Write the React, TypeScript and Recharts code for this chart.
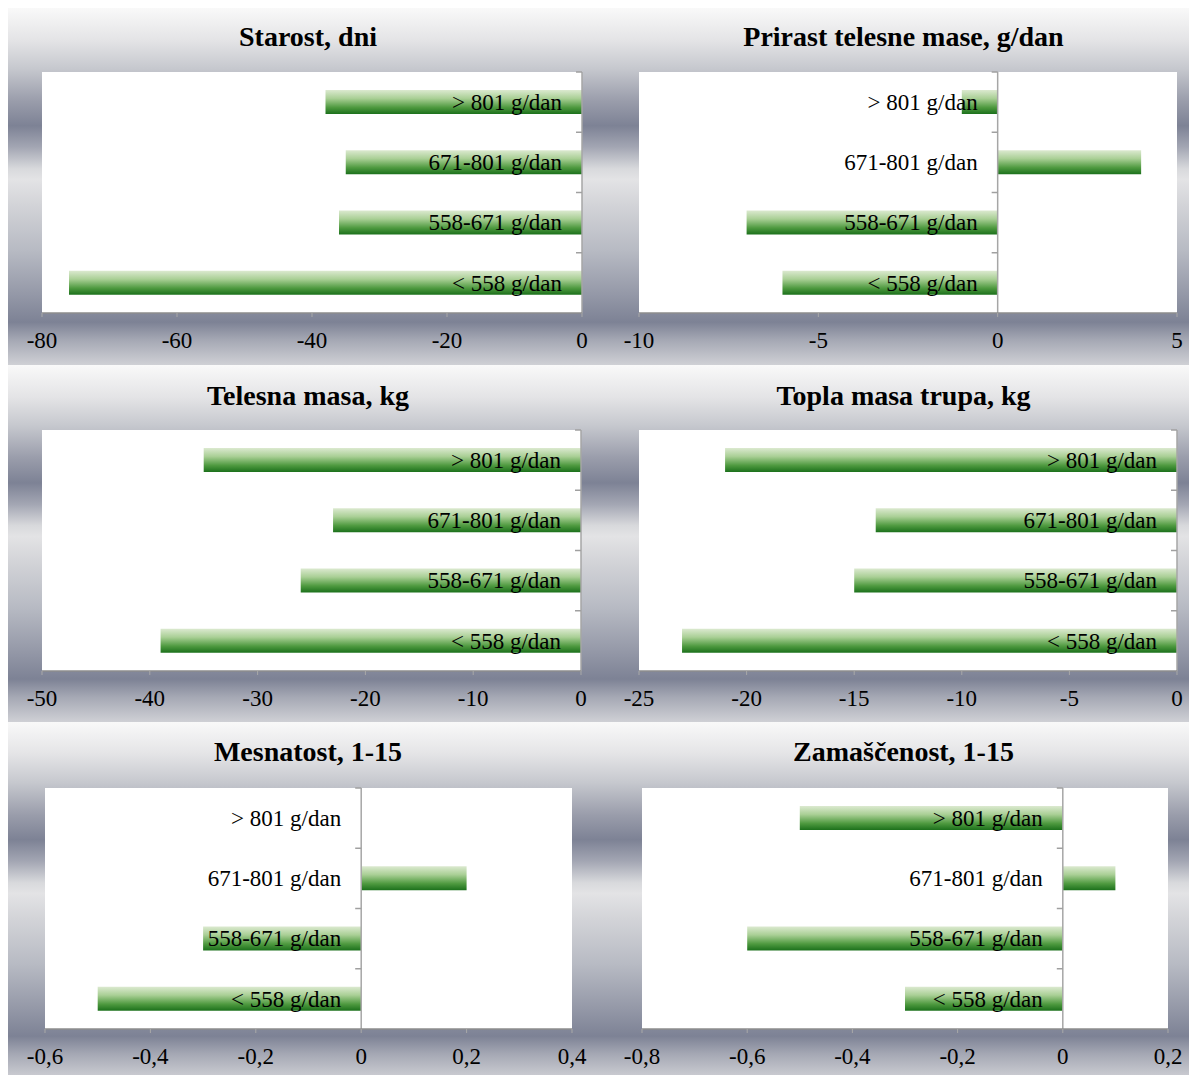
import React from 'react';
import { ComposedChart, Bar, Line, XAxis, YAxis, CartesianGrid, ReferenceLine } from 'recharts';

const categories = ['> 801 g/dan', '671-801 g/dan', '558-671 g/dan', '< 558 g/dan'];

const starostValues = [-38, -35, -36, -76];
const prirastValues = [-1, 4, -7, -6];
const telesnaValues = [-35, -23, -26, -39];
const toplaValues = [-21, -14, -15, -23];
const mesnatostValues = [0, 0.2, -0.3, -0.5];
const zamascenostValues = [-0.5, 0.1, -0.6, -0.3];

const starostTicks = [-80, -60, -40, -20, 0];
const prirastTicks = [-10, -5, 0, 5];
const telesnaTicks = [-50, -40, -30, -20, -10, 0];
const toplaTicks = [-25, -20, -15, -10, -5, 0];
const mesnatostTicks = [-0.6, -0.4, -0.2, 0, 0.2, 0.4];
const zamascenostTicks = [-0.8, -0.6, -0.4, -0.2, 0, 0.2];

const titles = [
  'Starost, dni',
  'Prirast telesne mase, g/dan',
  'Telesna masa, kg',
  'Topla masa trupa, kg',
  'Mesnatost, 1-15',
  'Zamaščenost, 1-15',
];

const FONT = '"Liberation Serif", "Times New Roman", Times, serif';
const BG =
  'linear-gradient(to bottom, #f9f9f9 0%, #e4e4e6 9%, #c6c8ce 17%, #9a9dab 26%, #7d8295 33%, #a3a6b3 39%, #d8d9dc 45%, #e3e3e5 48%, #d3d4d8 55%, #b7bac3 68%, #9599a8 80%, #7d8295 88%, #a5a8b4 93%, #cfd0d5 100%)';
const GAP = 0.3;
const PANEL_H = 357;
const PLOT_H = 241;

const fmt = (v: number) => String(v).replace('.', ',');

const renderCategory = (props: any) => {
  const { cx, cy, index, payload } = props;
  if (cx == null || cy == null || !payload) return <g key={`c-${index}`} />;
  const band = PLOT_H / categories.length;
  const tickY = cy - band / 2;
  return (
    <g key={`c-${index}`}>
      <line x1={cx - 6} x2={cx} y1={tickY} y2={tickY} stroke="#a0a0a0" strokeWidth={1.5} />
      <text
        x={cx - 20}
        y={cy}
        dy="0.34em"
        textAnchor="end"
        fontSize={23}
        fontFamily={FONT}
        fill="#000"
      >
        {payload.name}
      </text>
    </g>
  );
};

type PanelProps = {
  id: string;
  title: string;
  values: number[];
  ticks: number[];
  width: number;
  left: number;
  right: number;
  top: number;
  titleX: number;
  titleY: number;
};

function Panel({ id, title, values, ticks, width, left, right, top, titleX, titleY }: PanelProps) {
  const data = categories.map((name, i) => ({ name, value: values[i], axis: 0 }));
  const xh = PANEL_H - top - PLOT_H;
  return (
    <div style={{ position: 'relative', width, height: PANEL_H, background: BG, flex: 'none' }}>
      <div
        style={{
          position: 'absolute',
          left: titleX - 250,
          width: 500,
          top: titleY - 14,
          textAlign: 'center',
          fontSize: 28,
          lineHeight: '28px',
          fontWeight: 'bold',
          fontFamily: FONT,
          color: '#000',
          zIndex: 2,
        }}
      >
        {title}
      </div>
      <ComposedChart
        width={width}
        height={PANEL_H}
        data={data}
        layout="vertical"
        margin={{ top, right, left, bottom: 0 }}
        barCategoryGap={`${GAP * 100}%`}
      >
        <defs>
          <linearGradient id={`bar-${id}`} x1="0" y1="0" x2="0" y2="1">
            <stop offset="0%" stopColor="#dbe9cf" />
            <stop offset="35%" stopColor="#a9cf95" />
            <stop offset="72%" stopColor="#4f9a40" />
            <stop offset="100%" stopColor="#1b701b" />
          </linearGradient>
        </defs>
        <CartesianGrid fill="#ffffff" fillOpacity={1} stroke="#ffffff" strokeOpacity={0} />
        <XAxis
          type="number"
          domain={[ticks[0], ticks[ticks.length - 1]]}
          ticks={ticks}
          interval={0}
          tickFormatter={fmt}
          height={xh}
          tick={{ fontSize: 23, fill: '#000', fontFamily: FONT }}
          tickSize={4}
          tickMargin={15}
          axisLine={{ stroke: '#8c8c8c', strokeWidth: 1.5 }}
          tickLine={{ stroke: '#a8a8a8' }}
        />
        <YAxis type="category" dataKey="name" hide width={0} />
        <Bar dataKey="value" fill={`url(#bar-${id})`} isAnimationActive={false} />
        <ReferenceLine x={0} stroke="#a6a6a6" strokeWidth={1.5} />
        <Line
          dataKey="axis"
          stroke="none"
          strokeWidth={0}
          dot={renderCategory}
          activeDot={false}
          isAnimationActive={false}
          legendType="none"
        />
      </ComposedChart>
    </div>
  );
}

export default function App() {
  const LW = 590;
  const RW = 591;
  return (
    <div style={{ width: LW + RW, height: 1067, overflow: 'hidden' }}>
      <style>{'html { overflow: hidden; } body { margin: 8px 0 0 8px; overflow: visible; }'}</style>
      <div style={{ display: 'flex', width: LW + RW }}>
        <Panel id="a" title={titles[0]} values={starostValues} ticks={starostTicks} width={LW} left={34} right={16} top={64} titleX={300} titleY={29} />
        <Panel id="b" title={titles[1]} values={prirastValues} ticks={prirastTicks} width={RW} left={41} right={12} top={64} titleX={305.5} titleY={29} />
      </div>
      <div style={{ display: 'flex', width: LW + RW }}>
        <Panel id="c" title={titles[2]} values={telesnaValues} ticks={telesnaTicks} width={LW} left={34} right={17} top={65} titleX={300} titleY={31} />
        <Panel id="d" title={titles[3]} values={toplaValues} ticks={toplaTicks} width={RW} left={41} right={12} top={65} titleX={305.5} titleY={31} />
      </div>
      <div style={{ display: 'flex', width: LW + RW }}>
        <Panel id="e" title={titles[4]} values={mesnatostValues} ticks={mesnatostTicks} width={LW} left={37} right={26} top={66} titleX={300} titleY={30} />
        <Panel id="f" title={titles[5]} values={zamascenostValues} ticks={zamascenostTicks} width={RW} left={44} right={21} top={66} titleX={305.5} titleY={30} />
      </div>
    </div>
  );
}
